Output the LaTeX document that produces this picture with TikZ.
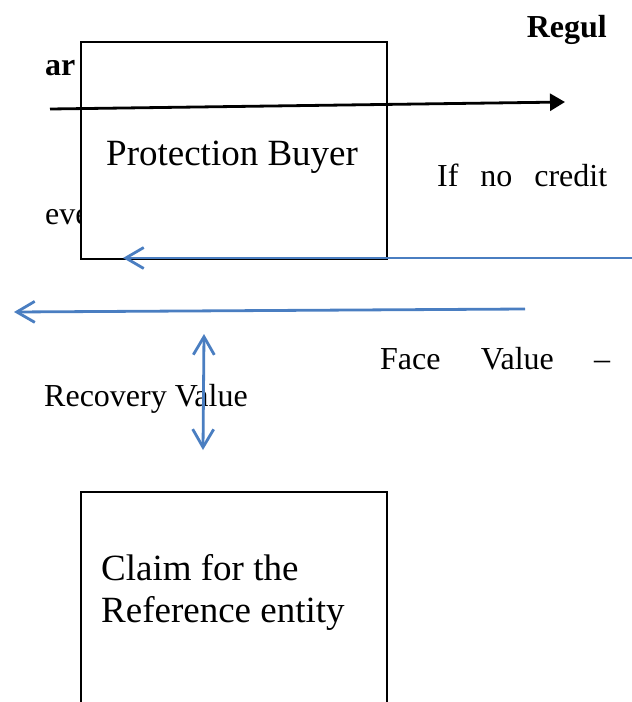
\documentclass[tikz,border=0pt]{standalone}
\usepackage{fontspec}
\setmainfont{Liberation Serif}
\usetikzlibrary{arrows.meta}
\definecolor{flowblue}{RGB}{74,126,193}

\begin{document}
\begin{tikzpicture}[x=1pt,y=-1pt,
  txt/.style={anchor=base west, inner sep=0pt, font=\fontsize{32}{38}\selectfont},
  big/.style={anchor=base west, inner sep=0pt, font=\fontsize{37}{43}\selectfont},
  box/.style={draw, fill=white, line width=1.5pt, inner sep=0pt, anchor=north west, minimum width=306pt},
  barb/.tip={Straight Barb[length=18pt,width=21pt]},
  flow/.style={draw=flowblue, line width=2.8pt, -barb},
  ]
  \clip (0,0) rectangle (632,702);

  % text that runs behind the boxes
  \node[txt, font=\fontsize{32}{38}\selectfont\bfseries, anchor=base east] (regul) at (607,37) {Regul};
  \node[txt, font=\fontsize{32}{38}\selectfont\bfseries] (ar) at (45,75) {ar};
  \node[txt] (eve) at (45,224) {eve};

  % boxes
  \node[box, minimum height=217pt] (buyer) at (80,41) {};
  \node[box, minimum height=260pt] (claim) at (80,491) {};
  \node[big] (buyertxt) at (106,165) {Protection Buyer};
  \node[big] (claimA) at (101,580) {Claim for the};
  \node[big] (claimB) at (101,622) {Reference entity};

  % right hand text
  \node[txt] (nocredit) at (437,186) {\makebox[170pt][s]{If no credit}};
  \node[txt] (face) at (380,369) {\makebox[230pt][s]{Face Value --}};
  \node[txt] (recovery) at (44,406) {Recovery Value};

  % arrows
  \coordinate (premS) at (50,109);
  \coordinate (premE) at (565,102);
  \draw[line width=2.8pt, -{Triangle[length=15pt,width=17pt]}] (premS) -- (premE);

  \coordinate (payS) at (640,258);
  \coordinate (payE) at (123,258);
  \draw[flow] (payS) -- (payE);

  \coordinate (lossS) at (525,309);
  \coordinate (lossE) at (14,312);
  \draw[flow] (lossS) -- (lossE);

  \coordinate (recT) at (204,334);
  \coordinate (recB) at (203,450);
  \draw[flow, barb-barb] (recT) -- (recB);
\end{tikzpicture}
\end{document}
